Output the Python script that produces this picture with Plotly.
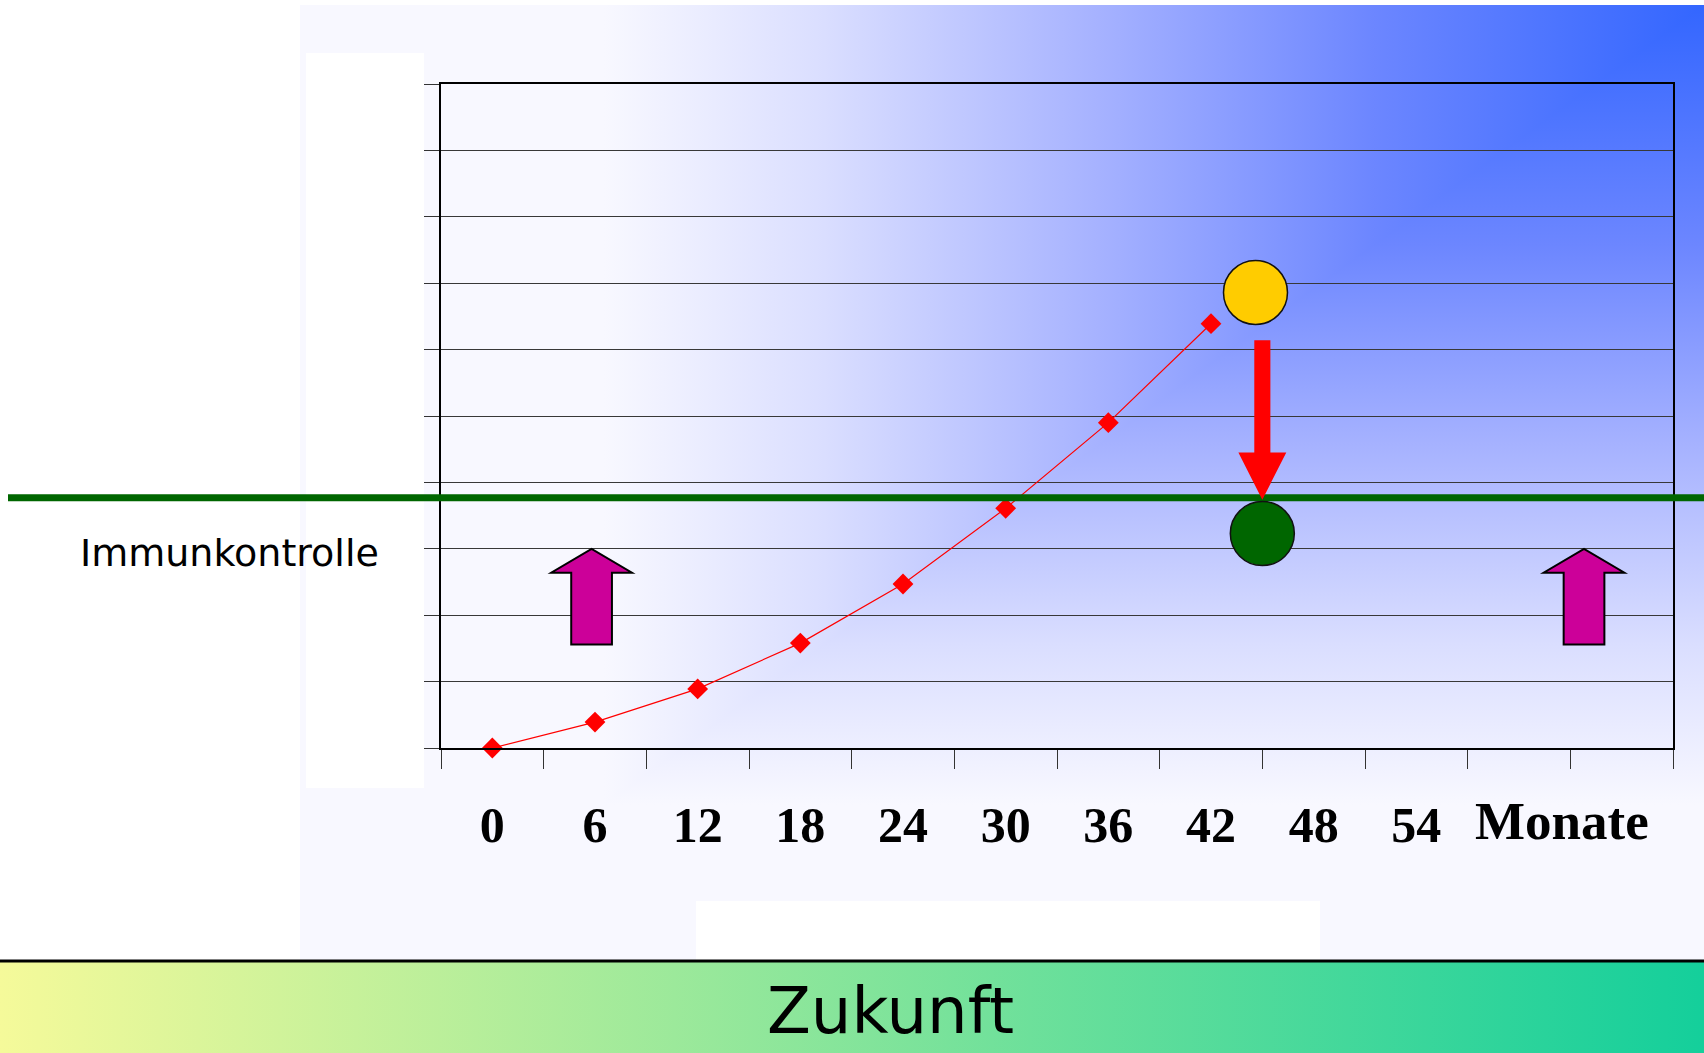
import base64
import plotly.graph_objects as go

# ---------------- data ----------------
months = [0, 6, 12, 18, 24, 30, 36, 42]
level = [0, 0.39, 0.89, 1.58, 2.47, 3.61, 4.90, 6.39]
tick_months = [0, 6, 12, 18, 24, 30, 36, 42, 48, 54]
tick_labels = ["0", "6", "12", "18", "24", "30", "36", "42", "48", "54"]
axis_title = "Monate"
threshold_level = 3.77
threshold_label = "Immunkontrolle"
marker_months = [44.6, 45.0]      # yellow (before) -> green (after)
marker_levels = [6.86, 3.23]
marker_colors = ["#FFCC00", "#006600"]
boost_months = [5.8, 63.8]        # magenta up-arrows
footer_text = "Zukunft"

# ---------------- geometry of the figure ----------------
W, H = 1704, 1053
L, R, T, B = 441, 1673, 84, 748
PW, PH = R - L, B - T


def xp(px):
    return (px - L) / PW


def yp(py):
    return (B - py) / PH


# ---------------- background (slide) as SVG image ----------------
GW, GH, K = 1100, 800, 3
stops = ('<stop offset="0" stop-color="#3366FF"/>'
         '<stop offset="0.3" stop-color="#6C86FF"/>'
         '<stop offset="0.55" stop-color="#A6B2FF"/>'
         '<stop offset="0.8" stop-color="#DADEFF"/>'
         '<stop offset="1" stop-color="#F8F8FF"/>')
svg = f'''<svg xmlns="http://www.w3.org/2000/svg" width="{W}" height="{H}" viewBox="0 0 {W} {H}" preserveAspectRatio="none">
<defs>
<linearGradient id="gh" gradientUnits="userSpaceOnUse" x1="{W}" y1="0" x2="{W-GW}" y2="0">{stops}</linearGradient>
<linearGradient id="gv" gradientUnits="userSpaceOnUse" x1="0" y1="5" x2="0" y2="{5+GH}">{stops}</linearGradient>
<linearGradient id="gb" x1="0" y1="0" x2="1" y2="0">
<stop offset="0" stop-color="#F5FA9A"/><stop offset="1" stop-color="#14CF9B"/></linearGradient>
<clipPath id="cp"><rect x="300" y="5" width="{W-300}" height="955"/></clipPath>
</defs>
<rect width="{W}" height="{H}" fill="#FFFFFF"/>
<g clip-path="url(#cp)">
<rect x="300" y="5" width="{W-300}" height="955" fill="url(#gh)"/>
<polygon points="{W},5 {W-GW*K},{5+GH*K} {W},{5+GH*K}" fill="url(#gv)"/>
</g>
<rect x="306" y="53" width="118" height="735" fill="#FFFFFF"/>
<rect x="696" y="901" width="624" height="59" fill="#FFFFFF"/>
<rect x="0" y="962" width="{W}" height="{H-962}" fill="url(#gb)"/>
<rect x="0" y="959.5" width="{W}" height="3" fill="#000000"/>
</svg>'''
bg_src = "data:image/svg+xml;base64," + base64.b64encode(svg.encode()).decode()

fig = go.Figure()

fig.add_trace(go.Scatter(
    x=months, y=level, mode="lines+markers",
    line=dict(color="#FF0000", width=1.2),
    marker=dict(symbol="diamond", size=16, color="#FF0000", line=dict(width=0)),
    showlegend=False, hoverinfo="skip", cliponaxis=False,
))

shapes = []
# threshold line (Immunkontrolle)
shapes.append(dict(type="line", xref="paper", yref="y", x0=xp(8), x1=xp(W),
                   y0=threshold_level, y1=threshold_level,
                   line=dict(color="#006600", width=7), layer="above"))

# red arrow from yellow to green
ax_c = marker_months[1]
sh, hh = 0.47, 1.4
y_top, y_head, y_tip = 6.14, 4.45, 3.74
shapes.append(dict(
    type="path", xref="x", yref="y", layer="above",
    path=(f"M {ax_c-sh},{y_top} L {ax_c+sh},{y_top} L {ax_c+sh},{y_head} "
          f"L {ax_c+hh},{y_head} L {ax_c},{y_tip} L {ax_c-hh},{y_head} "
          f"L {ax_c-sh},{y_head} Z"),
    fillcolor="#FF0000", line=dict(width=0)))

# magenta up-arrows
msh, mhh = 1.19, 2.36
for cx in boost_months:
    shapes.append(dict(
        type="path", xref="x", yref="y", layer="above",
        path=(f"M {cx-msh},1.56 L {cx+msh},1.56 L {cx+msh},2.64 L {cx+mhh},2.64 "
              f"L {cx},3.0 L {cx-mhh},2.64 L {cx-msh},2.64 Z"),
        fillcolor="#CC0099", line=dict(color="#000000", width=2)))

# circles
for mx, my, mc in zip(marker_months, marker_levels, marker_colors):
    shapes.append(dict(
        type="circle", xref="x", yref="y", layer="above",
        xsizemode="pixel", ysizemode="pixel", xanchor=mx, yanchor=my,
        x0=-32, x1=32, y0=-32, y1=32,
        fillcolor=mc, line=dict(color="#111111", width=1.5)))

annotations = [
    dict(text=axis_title, xref="x", yref="paper", x=62.5, y=yp(820.5),
         showarrow=False, xanchor="center", yanchor="middle",
         font=dict(family="Liberation Serif", size=53, color="#000000", weight="bold")),
    dict(text=threshold_label, xref="paper", yref="paper", x=xp(229), y=yp(553),
         showarrow=False, xanchor="center", yanchor="middle",
         font=dict(family="DejaVu Sans", size=38, color="#000000")),
    dict(text=footer_text, xref="paper", yref="paper", x=xp(890), y=yp(1011),
         showarrow=False, xanchor="center", yanchor="middle",
         font=dict(family="DejaVu Sans", size=64, color="#000000")),
]

fig.update_layout(
    width=W, height=H,
    margin=dict(l=L, r=W - R, t=T, b=H - B, pad=0),
    paper_bgcolor="#FFFFFF", plot_bgcolor="rgba(0,0,0,0)",
    showlegend=False,
    images=[dict(source=bg_src, xref="paper", yref="paper", x=xp(0), y=yp(0),
                 sizex=W / PW, sizey=H / PH, xanchor="left", yanchor="top",
                 sizing="stretch", layer="below")],
    shapes=shapes, annotations=annotations,
    xaxis=dict(
        range=[-3, 69], tickmode="array", tickvals=tick_months, ticktext=tick_labels,
        ticks="", showgrid=False, zeroline=False,
        showline=True, mirror=True, linecolor="#000000", linewidth=1.5,
        tickfont=dict(family="Liberation Serif", size=50, color="#000000", weight="bold"),
        ticklabelstandoff=32,
        minor=dict(tickmode="linear", tick0=-3, dtick=6, ticks="outside",
                   ticklen=19, tickwidth=1.3, tickcolor="#333333", showgrid=False),
    ),
    yaxis=dict(
        range=[0, 10], tickmode="linear", tick0=0, dtick=1, showticklabels=False,
        ticks="outside", ticklen=15, tickwidth=1.3, tickcolor="#333333",
        showgrid=True, gridcolor="#383838", gridwidth=1.4, zeroline=False,
        showline=True, mirror=True, linecolor="#000000", linewidth=1.5,
    ),
)

fig.write_html("out.html", config={"displayModeBar": False},
               post_script="document.body.style.margin='0px';")
